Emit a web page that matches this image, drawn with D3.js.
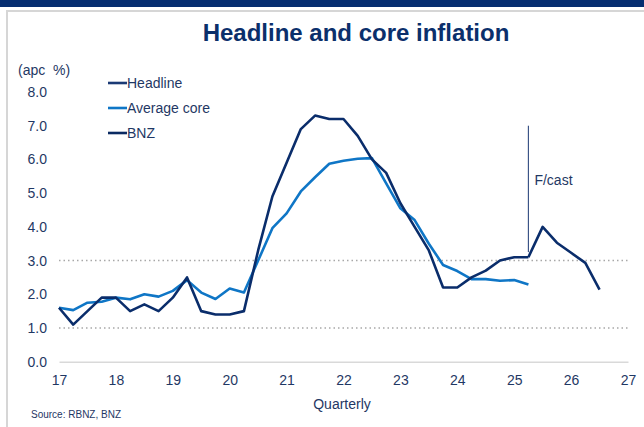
<!DOCTYPE html>
<html>
<head>
<meta charset="utf-8">
<script src="https://cdn.jsdelivr.net/npm/d3@7"></script>
<style>
  body { margin: 0; background: #fff; }
  svg { display: block; }
  text { font-family: "Liberation Sans", Arial, sans-serif; }
</style>
</head>
<body>
<svg id="chart" width="644" height="427"></svg>
<script>
// Annual % change, quarterly observations
const headlineQuarters = [17.00, 17.25, 17.50, 17.75, 18.00, 18.25, 18.50, 18.75, 19.00, 19.25,
                          19.50, 19.75, 20.00, 20.25, 20.50, 20.75, 21.00, 21.25, 21.50, 21.75,
                          22.00, 22.25, 22.50, 22.75, 23.00, 23.25, 23.50, 23.75, 24.00, 24.25,
                          24.50, 24.75, 25.00, 25.25];
const headlineValues = [1.6, 1.1, 1.5, 1.9, 1.9, 1.5, 1.7, 1.5, 1.9, 2.5,
                        1.5, 1.4, 1.4, 1.5, 3.3, 4.9, 5.9, 6.9, 7.3, 7.2,
                        7.2, 6.7, 6.0, 5.6, 4.7, 4.0, 3.3, 2.2, 2.2, 2.5,
                        2.7, 3.0, 3.1, 3.1];

const coreQuarters = headlineQuarters;
const coreValues = [1.60, 1.53, 1.75, 1.78, 1.90, 1.85, 2.00, 1.93, 2.10, 2.42,
                    2.05, 1.86, 2.17, 2.05, 3.00, 3.96, 4.40, 5.05, 5.47, 5.87,
                    5.96, 6.02, 6.04, 5.29, 4.55, 4.20, 3.50, 2.87, 2.69, 2.45,
                    2.45, 2.40, 2.42, 2.29];

const bnzQuarters = [25.25, 25.50, 25.75, 26.00, 26.25, 26.50];
const bnzValues = [3.1, 4.0, 3.53, 3.23, 2.93, 2.14];

const xTicks = [17, 18, 19, 20, 21, 22, 23, 24, 25, 26, 27];
const yTicks = [0, 1, 2, 3, 4, 5, 6, 7, 8];
const targetBand = [1, 3];          // dotted guide lines
const forecastStart = 25.25;        // where the BNZ projection begins
const forecastMarkTop = 7.0;
const forecastMarkBottom = 3.25;

const navy = "#0a2d6b";
const coreBlue = "#0f76c6";
const textColor = "#1f3864";

const legendItems = [
  { label: "Headline", color: "#1b3a75" },
  { label: "Average core", color: coreBlue },
  { label: "BNZ", color: "#0a2a62" }
];

const svg = d3.select("#chart");

// page frame
svg.append("rect").attr("x", 0).attr("y", 0).attr("width", 644).attr("height", 7).attr("fill", "#062d70");
svg.append("line").attr("x1", 6).attr("x2", 644).attr("y1", 11).attr("y2", 11)
  .attr("stroke", "#d6d6d6").attr("stroke-width", 2);
svg.append("line").attr("x1", 7).attr("x2", 7).attr("y1", 11).attr("y2", 427)
  .attr("stroke", "#d6d6d6").attr("stroke-width", 2);

// title
svg.append("text").attr("x", 356).attr("y", 41).attr("text-anchor", "middle")
  .attr("font-size", 24).attr("font-weight", "bold").attr("fill", "#0b2f6b")
  .text("Headline and core inflation");

const x = d3.scaleLinear().domain([17, 27]).range([59, 628]);
const y = d3.scaleLinear().domain([0, 8]).range([361.7, 92]);

// dotted guide lines
svg.append("g").selectAll("line").data(targetBand).join("line")
  .attr("x1", x(17)).attr("x2", x(27))
  .attr("y1", d => y(d)).attr("y2", d => y(d))
  .attr("stroke", "#a8a8a8").attr("stroke-width", 1.5).attr("stroke-dasharray", "1.5,3");

// x axis
const xAxis = svg.append("g").attr("transform", `translate(0,${y(0)})`)
  .call(d3.axisBottom(x).tickValues(xTicks).tickSize(0).tickSizeOuter(0).tickPadding(13).tickFormat(d3.format("d")));
xAxis.select(".domain").attr("stroke", "#d9d9d9").attr("stroke-width", 1.5);
xAxis.selectAll("text").attr("font-size", 14).attr("fill", textColor)
  .attr("font-family", "'Liberation Sans', Arial, sans-serif");

// y axis
const yAxis = svg.append("g").attr("transform", `translate(${x(17)},0)`)
  .call(d3.axisLeft(y).tickValues(yTicks).tickSize(0).tickPadding(12).tickFormat(d3.format(".1f")));
yAxis.select(".domain").remove();
yAxis.selectAll("text").attr("font-size", 14).attr("fill", textColor)
  .attr("font-family", "'Liberation Sans', Arial, sans-serif");

svg.append("text").attr("x", 18).attr("y", 75).attr("font-size", 14).attr("fill", textColor)
  .attr("xml:space", "preserve").text("(apc  %)");

svg.append("text").attr("x", 342).attr("y", 409).attr("text-anchor", "middle")
  .attr("font-size", 14).attr("fill", textColor).text("Quarterly");

svg.append("text").attr("x", 31).attr("y", 418).attr("font-size", 10).attr("fill", textColor)
  .text("Source: RBNZ, BNZ");

// forecast marker
svg.append("line").attr("x1", x(forecastStart)).attr("x2", x(forecastStart))
  .attr("y1", y(forecastMarkTop)).attr("y2", y(forecastMarkBottom))
  .attr("stroke", "#3b5486").attr("stroke-width", 1.2);
svg.append("text").attr("x", x(forecastStart) + 6).attr("y", 185)
  .attr("font-size", 14).attr("fill", textColor).text("F/cast");

// series
const line = d3.line().x(d => x(d[0])).y(d => y(d[1])).curve(d3.curveLinear);
function drawSeries(qs, vs, color) {
  svg.append("path").datum(d3.zip(qs, vs)).attr("d", line)
    .attr("fill", "none").attr("stroke", color).attr("stroke-width", 2.6)
    .attr("stroke-linejoin", "round").attr("stroke-linecap", "butt");
}
drawSeries(coreQuarters, coreValues, coreBlue);
drawSeries(headlineQuarters, headlineValues, navy);
drawSeries(bnzQuarters, bnzValues, navy);

// legend
const legend = svg.append("g").selectAll("g").data(legendItems).join("g")
  .attr("transform", (d, i) => `translate(108,${83 + i * 25})`);
legend.append("line").attr("x1", 0).attr("x2", 19).attr("y1", 0).attr("y2", 0)
  .attr("stroke", d => d.color).attr("stroke-width", 2.6);
legend.append("text").attr("x", 19).attr("y", 5).attr("font-size", 14).attr("fill", textColor)
  .text(d => d.label);
</script>
</body>
</html>
